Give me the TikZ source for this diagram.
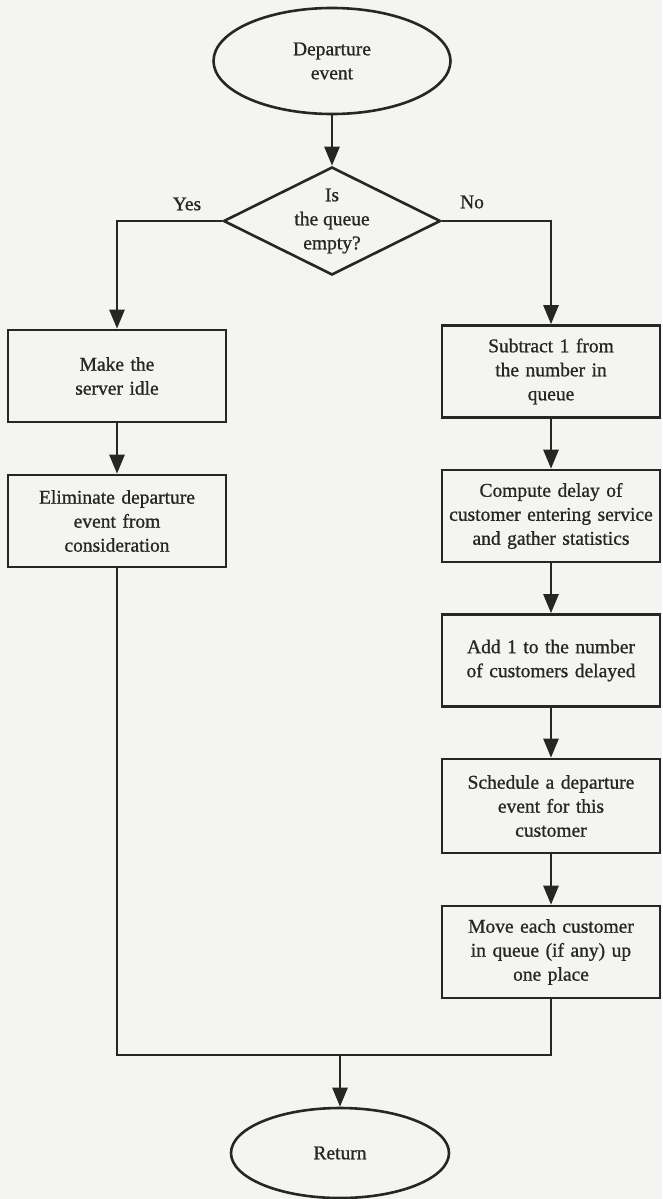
\documentclass[tikz,border=0pt]{standalone}
\usepackage{fontspec}
\setmainfont{Liberation Serif}[FakeBold=0.9]
\usetikzlibrary{shapes.geometric,arrows.meta}
\definecolor{ink}{HTML}{262626}
\definecolor{paper}{HTML}{F4F4F1}
\begin{document}
\begin{tikzpicture}[x=1pt,y=-1pt,
  every node/.style={text=ink,font=\fontsize{19.5}{24}\selectfont},
  line/.style={draw=ink,line width=2.6pt},
  arr/.style={line,-{Triangle[length=19pt,width=15pt]}},
  term/.style={line,ellipse,inner sep=0pt,align=center},
  decide/.style={line,diamond,aspect=2,inner sep=0pt,align=center,minimum width=217pt,minimum height=108pt},
  procbox/.style={line,rectangle,inner sep=0pt,align=center,text width=214pt,minimum width=218pt,minimum height=92pt}]
\useasboundingbox (0,0) rectangle (662,1199);
\fill[paper] (0,0) rectangle (662,1199);

\node[term,minimum width=237pt,minimum height=106pt] (dep) at (332,61) {Departure\\event};
\node[decide] (q) at (332,221) {Is\\the queue\\empty?};
\node (yes) at (187,204) {Yes};
\node (no) at (472,202) {No};

\node[procbox] (idle) at (117,376) {Make the\\server idle};
\node[procbox] (elim) at (117,521) {Eliminate departure\\event from\\consideration};

\node[procbox] (sub) at (551,371.5) {Subtract 1 from\\the number in\\queue};
\node[procbox] (comp) at (551,516) {Compute delay of\\customer entering service\\and gather statistics};
\node[procbox] (add) at (551,660.5) {Add 1 to the number\\of customers delayed};
\node[procbox,minimum height=94pt] (sched) at (551,806) {Schedule a departure\\event for this\\customer};
\node[procbox] (move) at (551,952) {Move each customer\\in queue (if any) up\\one place};

\node[term,minimum width=218pt,minimum height=90pt] (ret) at (340,1153) {Return};

\coordinate (jl) at (117,1055);
\coordinate (jr) at (551,1055);
\coordinate (jm) at (340,1055);

\draw[arr] (dep.south) -- (q.north);
\draw[arr] (q.west) -| (idle.north);
\draw[arr] (q.east) -| (sub.north);
\draw[arr] (idle) -- (elim);
\draw[arr] (sub) -- (comp);
\draw[arr] (comp) -- (add);
\draw[arr] (add) -- (sched);
\draw[arr] (sched) -- (move);
\draw[line] (elim.south) -- (jl) -- (jr) -- (move.south);
\draw[arr] (jm) -- (ret.north);
\end{tikzpicture}
\end{document}
